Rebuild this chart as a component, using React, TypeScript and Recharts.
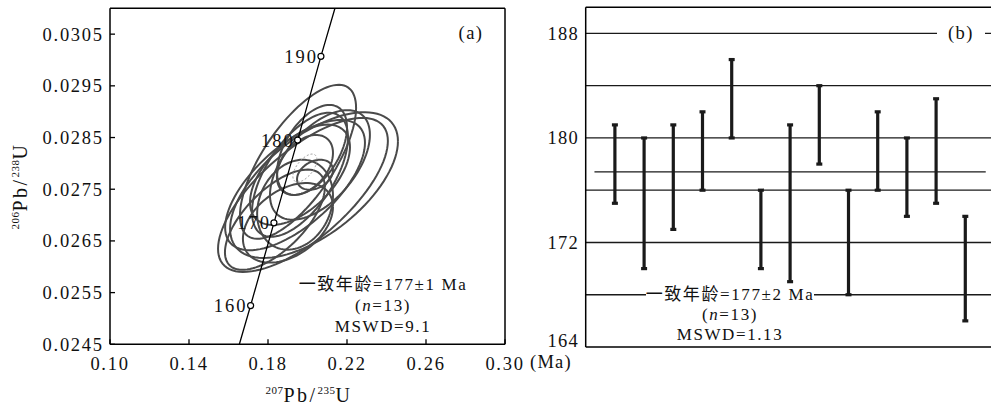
import React from 'react'
import { ScatterChart, Scatter, XAxis, YAxis, ReferenceLine, ErrorBar } from 'recharts'

const SERIF = "'Liberation Serif', 'Tinos', 'DejaVu Serif', serif"
const SERIF_CJK = "'Liberation Serif', 'DejaVu Serif', 'Noto Sans CJK SC', serif"

// ---- panel (a): concordia ----
const xTicksA = [0.1, 0.14, 0.18, 0.22, 0.26, 0.3]
const yTicksA = [0.0245, 0.0255, 0.0265, 0.0275, 0.0285, 0.0295, 0.0305]

// concordia curve (null = no age marker)
const concordiaAge = [null, 160, 170, 180, 190, null]
const concordiaX = [0.1655, 0.1712, 0.183, 0.195, 0.2068, 0.2139]
const concordiaY = [0.0245, 0.02525, 0.02685, 0.02845, 0.03007, 0.031]

// error ellipses: centre, half extents, correlation
const ellCx = [0.1977, 0.2033, 0.1952, 0.1962, 0.1835, 0.1937, 0.1901, 0.2023, 0.1987, 0.2038, 0.1962, 0.2063, 0.1937]
const ellCy = [0.02739, 0.02758, 0.02803, 0.02778, 0.02691, 0.0272, 0.02685, 0.02826, 0.02797, 0.02778, 0.02778, 0.02797, 0.02758]
const ellSx = [0.043, 0.0425, 0.0294, 0.0243, 0.0253, 0.0192, 0.0228, 0.0177, 0.0142, 0.0091, 0.0253, 0.0253, 0.0354]
const ellSy = [0.00149, 0.00141, 0.00149, 0.0012, 0.00097, 0.00087, 0.00077, 0.00087, 0.00058, 0.00029, 0.00097, 0.00106, 0.00126]
const ellRho = [0.7, 0.6, 0.7, 0.6, 0.65, 0.2, 0.4, 0.5, 0.4, 0.3, 0.55, 0.55, 0.65]

// concordia age ellipse
const meanEll = { cx: 0.1987, cy: 0.02791, sx: 0.0061, sy: 0.00027, rho: 0.6 }

// ---- panel (b): weighted mean ----
const spotNo = [1, 2, 3, 4, 5, 6, 7, 8, 9, 10, 11, 12, 13]
const ageLow = [175, 170, 173, 176, 180, 170, 169, 178, 168, 176, 174, 175, 166]
const ageHigh = [181, 180, 181, 182, 186, 176, 181, 184, 176, 182, 180, 183, 174]
const yTicksB = [164, 172, 180, 188]
const gridB = [168, 172, 176, 180, 184, 188]
const meanAge = 177.4

function ellipse(cx: number, cy: number, sx: number, sy: number, rho: number) {
  const k = Math.sqrt(1 - rho * rho)
  const pts = []
  for (let i = 0; i <= 96; i++) {
    const t = (i / 96) * Math.PI * 2
    pts.push({ x: cx + sx * Math.cos(t), y: cy + sy * (rho * Math.cos(t) + k * Math.sin(t)) })
  }
  return pts
}

const concordiaData = concordiaX.map((x, i) => ({ x, y: concordiaY[i], age: concordiaAge[i] }))
const ellipses = ellCx.map((cx, i) => ellipse(cx, ellCy[i], ellSx[i], ellSy[i], ellRho[i]))
const errData = spotNo.map((x, i) => {
  const mid = (ageLow[i] + ageHigh[i]) / 2
  const half = (ageHigh[i] - ageLow[i]) / 2
  return { x, y: mid, err: [half, half] }
})

const txt = { fontFamily: SERIF, fontSize: 18.5, fill: '#111', letterSpacing: 1.7 }

const XTick = (p: any) => (
  <text x={p.x} y={p.y} dy="0.71em" textAnchor="middle" style={txt}>
    {Number(p.payload.value).toFixed(2)}
  </text>
)
const YTickA = (p: any) => (
  <text x={p.x + 1.7} y={p.y} dy="0.35em" textAnchor="end" style={txt}>
    {Number(p.payload.value).toFixed(4)}
  </text>
)
const YTickB = (p: any) => (
  <text x={p.x + 1.2} y={p.y - (p.payload.value === 164 ? 6 : 0)} dy="0.35em" textAnchor="end" style={{ ...txt, letterSpacing: 1.2 }}>
    {p.payload.value}
  </text>
)

const ConcordiaDot = (p: any) => {
  if (!p.payload || p.payload.age == null) return <g />
  return (
    <g>
      <circle cx={p.cx} cy={p.cy} r={3} fill="#fff" stroke="#000" strokeWidth={1.2} />
      <text x={p.cx - 3} y={p.cy} dy="0.35em" textAnchor="end" style={{ ...txt, letterSpacing: 2 }}>
        {p.payload.age}
      </text>
    </g>
  )
}

const NoDot = () => <g />

function PanelA() {
  return (
    <ScatterChart width={545} height={409} margin={{ top: 8.3, right: 40, bottom: 0, left: 10 }}>
      <XAxis
        type="number"
        dataKey="x"
        domain={[0.1, 0.3]}
        ticks={xTicksA}
        interval={0}
        allowDataOverflow
        height={64.7}
        tickSize={-5}
        tickMargin={17.7}
        tick={XTick}
        axisLine={{ stroke: '#000', strokeWidth: 1.5 }}
        tickLine={{ stroke: '#000', strokeWidth: 1.3 }}
      />
      <YAxis
        type="number"
        dataKey="y"
        domain={[0.0245, 0.031]}
        ticks={yTicksA}
        interval={0}
        allowDataOverflow
        width={100}
        tickSize={-5}
        tickMargin={13}
        tick={YTickA}
        axisLine={{ stroke: '#000', strokeWidth: 1.5 }}
        tickLine={{ stroke: '#000', strokeWidth: 1.3 }}
      />
      <ReferenceLine y={0.031} stroke="#000" strokeWidth={1.5} />
      <ReferenceLine x={0.3} stroke="#000" strokeWidth={1.5} />
      {ellipses.map((pts, i) => (
        <Scatter
          key={i}
          data={pts}
          line={{ stroke: '#4a4a4a', strokeWidth: 2 }}
          shape={NoDot}
          isAnimationActive={false}
        />
      ))}
      <Scatter
        data={ellipse(meanEll.cx, meanEll.cy, meanEll.sx, meanEll.sy, meanEll.rho)}
        line={{ stroke: '#9a9a9a', strokeWidth: 1, strokeDasharray: '2 2' }}
        shape={NoDot}
        isAnimationActive={false}
      />
      <Scatter
        data={concordiaData}
        line={{ stroke: '#000', strokeWidth: 1.3 }}
        shape={ConcordiaDot}
        isAnimationActive={false}
      />
    </ScatterChart>
  )
}

function PanelB() {
  return (
    <ScatterChart width={500} height={409} margin={{ top: 7.3, right: 5.5, bottom: 62, left: 0 }}>
      <XAxis type="number" dataKey="x" domain={[0, 14]} hide height={0} allowDataOverflow />
      <YAxis
        type="number"
        dataKey="y"
        domain={[164, 190]}
        ticks={yTicksB}
        interval={0}
        allowDataOverflow
        width={85.7}
        tickSize={0}
        tickMargin={8}
        tick={YTickB}
        tickLine={false}
        axisLine={{ stroke: '#000', strokeWidth: 1.5 }}
      />
      <ReferenceLine y={190} stroke="#000" strokeWidth={1.5} />
      <ReferenceLine y={164} stroke="#000" strokeWidth={1.5} />
      {gridB.map((g) => (
        <ReferenceLine key={g} y={g} stroke="#1a1a1a" strokeWidth={1.3} />
      ))}
      <ReferenceLine
        segment={[{ x: 0.3, y: meanAge }, { x: 13.7, y: meanAge }]}
        stroke="#1a1a1a"
        strokeWidth={1.3}
      />
      <Scatter data={errData} shape={NoDot} isAnimationActive={false}>
        <ErrorBar dataKey="err" direction="y" width={3} strokeWidth={3.2} stroke="#1a1a1a" />
      </Scatter>
    </ScatterChart>
  )
}

const label: React.CSSProperties = { position: 'absolute', fontFamily: SERIF, color: '#111', whiteSpace: 'nowrap' }

export default function App() {
  return (
    <div style={{ position: 'fixed', left: 0, top: 0, width: 991, height: 409, overflow: 'hidden', background: '#fff' }}>
      <div style={{ position: 'absolute', left: 0, top: 0 }}>
        <PanelA />
      </div>
      <div style={{ position: 'absolute', left: 500, top: 0 }}>
        <PanelB />
      </div>

      {/* panel (a) text */}
      <div style={{ ...label, left: 446, top: 22, width: 50, textAlign: 'center', fontSize: 18.5, lineHeight: '22px', letterSpacing: 1.5 }}>(a)</div>
      <div style={{ ...label, fontFamily: SERIF_CJK, left: 283, top: 274, width: 200, textAlign: 'center', fontSize: 17, lineHeight: '21px', letterSpacing: 1.6 }}>
        <div>一致年龄=177±1 Ma</div>
        <div>(<i>n</i>=13)</div>
        <div>MSWD=9.1</div>
      </div>
      <div style={{ ...label, left: 209, top: 378, width: 200, textAlign: 'center', fontSize: 20, lineHeight: '24px', letterSpacing: 2.5 }}>
        <sup style={{ fontSize: 11, letterSpacing: 0.5 }}>207</sup>Pb/<sup style={{ fontSize: 11, letterSpacing: 0.5 }}>235</sup>U
      </div>
      <div
        style={{
          ...label,
          left: 15 - 100,
          top: 186 - 12,
          width: 200,
          textAlign: 'center',
          fontSize: 20,
          lineHeight: '24px',
          letterSpacing: 2.5,
          transform: 'rotate(-90deg)',
          transformOrigin: '100px 12px',
        }}
      >
        <sup style={{ fontSize: 11, letterSpacing: 0.5 }}>206</sup>Pb/<sup style={{ fontSize: 11, letterSpacing: 0.5 }}>238</sup>U
      </div>

      {/* panel (b) text */}
      <div style={{ ...label, left: 937, top: 22, width: 48, textAlign: 'center', fontSize: 18.5, lineHeight: '22px', background: '#fff', letterSpacing: 1.5 }}>(b)</div>
      <div style={{ ...label, fontFamily: SERIF_CJK, left: 630, top: 284.5, width: 200, textAlign: 'center', fontSize: 17, lineHeight: '20px', letterSpacing: 1.6 }}>
        <div><span style={{ background: '#fff' }}>一致年龄=177±2 Ma</span></div>
        <div>(<i>n</i>=13)</div>
        <div>MSWD=1.13</div>
      </div>
      <div style={{ ...label, left: 528, top: 351, width: 46, textAlign: 'center', fontSize: 18.5, lineHeight: '22px', letterSpacing: 1.2 }}>(Ma)</div>
    </div>
  )
}
